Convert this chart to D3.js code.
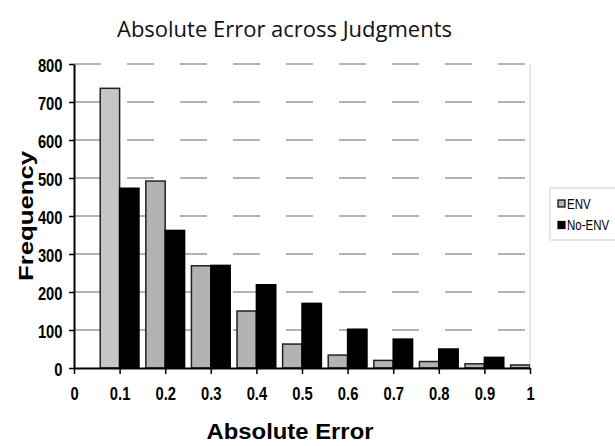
<!DOCTYPE html>
<html>
<head>
<meta charset="utf-8">
<script src="https://cdn.jsdelivr.net/npm/d3@7"></script>
<style>
  html, body { margin: 0; padding: 0; background: #fff; }
  svg { display: block; }
</style>
</head>
<body>
<svg id="chart" width="615" height="446"></svg>
<script>
// Bin centres (absolute error) and frequencies for each condition
const bins = [0.1, 0.2, 0.3, 0.4, 0.5, 0.6, 0.7, 0.8, 0.9, 1.0];
const envCounts = [736, 492, 269, 150, 63, 34, 20, 17, 11, 8];
const noEnvCounts = [473, 362, 270, 219, 170, 102, 76, 50, 28, null];
const seriesNames = ["ENV", "No-ENV"];
const xTicks = [0, 0.1, 0.2, 0.3, 0.4, 0.5, 0.6, 0.7, 0.8, 0.9, 1];
const yTicks = [0, 100, 200, 300, 400, 500, 600, 700, 800];

const svg = d3.select("#chart");
const plot = { left: 74, right: 530, top: 64, bottom: 368 };

const x = d3.scaleLinear().domain([0, 1]).range([plot.left, plot.right]);
const y = d3.scaleLinear().domain([0, 800]).range([plot.bottom, plot.top]);
const barW = 0.0425; // width of one bar, in axis units

svg.append("defs").append("clipPath").attr("id", "plotClip")
  .append("rect")
  .attr("x", plot.left).attr("y", plot.top - 2)
  .attr("width", plot.right - plot.left).attr("height", plot.bottom - plot.top + 4);

// Dashed horizontal gridlines
svg.append("g").selectAll("line")
  .data(yTicks.filter(d => d > 0))
  .join("line")
  .attr("x1", plot.left).attr("x2", plot.right)
  .attr("y1", d => y(d)).attr("y2", d => y(d))
  .attr("stroke", "#9a9a9a").attr("stroke-width", 1.5)
  .attr("stroke-dasharray", "27,26");

// Right edge of the plot area
svg.append("line")
  .attr("x1", plot.right).attr("x2", plot.right)
  .attr("y1", plot.top).attr("y2", plot.bottom)
  .attr("stroke", "#cfcfcf").attr("stroke-width", 1);

const bars = svg.append("g").attr("clip-path", "url(#plotClip)");

const envData = bins.map((b, i) => ({ b, v: envCounts[i], i })).filter(d => d.v != null);
const noEnvData = bins.map((b, i) => ({ b, v: noEnvCounts[i], i })).filter(d => d.v != null);

bars.selectAll("rect.env")
  .data(envData)
  .join("rect")
  .attr("class", "env")
  .attr("x", d => x(d.b - barW))
  .attr("width", d => x(d.b) - x(d.b - barW))
  .attr("y", d => y(d.v))
  .attr("height", d => y(0) - y(d.v))
  .attr("fill", d => d.i === 0 ? "#c6c6c6" : "#b3b3b3")
  .attr("stroke", "#222").attr("stroke-width", 1.5);

bars.selectAll("rect.noenv")
  .data(noEnvData)
  .join("rect")
  .attr("class", "noenv")
  .attr("x", d => x(d.b))
  .attr("width", d => x(d.b + barW) - x(d.b))
  .attr("y", d => y(d.v))
  .attr("height", d => y(0) - y(d.v))
  .attr("fill", "#000")
  .attr("stroke", "#000").attr("stroke-width", 1.5);

const tickFont = "'Liberation Sans', Arial, sans-serif";

// Y axis
const yAxis = svg.append("g")
  .attr("transform", `translate(${plot.left},0)`)
  .call(d3.axisLeft(y).tickValues(yTicks).tickSize(5).tickPadding(9).tickSizeOuter(0));
yAxis.select(".domain").attr("stroke", "#000").attr("stroke-width", 2);
yAxis.selectAll(".tick line").attr("stroke", "#000").attr("stroke-width", 1.5);
yAxis.selectAll(".tick text")
  .attr("font-family", tickFont).attr("font-weight", "bold").attr("font-size", 18)
  .attr("fill", "#000").attr("dy", "0.42em")
  .attr("transform", "scale(0.82,1)");

// X axis
const xAxis = svg.append("g")
  .attr("transform", `translate(0,${plot.bottom})`)
  .call(d3.axisBottom(x).tickValues(xTicks).tickFormat(d3.format("")).tickSize(6).tickPadding(13).tickSizeOuter(0));
xAxis.select(".domain").attr("stroke", "#000").attr("stroke-width", 2);
xAxis.selectAll(".tick line").attr("stroke", "#000").attr("stroke-width", 1.5);
xAxis.selectAll(".tick text")
  .attr("font-family", tickFont).attr("font-weight", "bold").attr("font-size", 18)
  .attr("fill", "#000")
  .attr("transform", "scale(0.82,1)");

// Title
svg.append("text")
  .attr("x", 117).attr("y", 37)
  .attr("font-family", "'Open Sans', 'Noto Sans', sans-serif")
  .attr("font-size", 21)
  .attr("textLength", 335).attr("lengthAdjust", "spacingAndGlyphs")
  .attr("fill", "#111")
  .text("Absolute Error across Judgments");

// Axis titles
svg.append("text")
  .attr("transform", "translate(33,216) rotate(-90)")
  .attr("text-anchor", "middle")
  .attr("font-family", tickFont).attr("font-weight", "bold").attr("font-size", 21)
  .attr("textLength", 130).attr("lengthAdjust", "spacingAndGlyphs")
  .attr("fill", "#000")
  .text("Frequency");

svg.append("text")
  .attr("x", 290).attr("y", 439)
  .attr("text-anchor", "middle")
  .attr("font-family", tickFont).attr("font-weight", "bold").attr("font-size", 22)
  .attr("textLength", 167).attr("lengthAdjust", "spacingAndGlyphs")
  .attr("fill", "#000")
  .text("Absolute Error");

// Legend
const legend = svg.append("g");
legend.append("rect")
  .attr("x", 550).attr("y", 188).attr("width", 70).attr("height", 52)
  .attr("fill", "#fff").attr("stroke", "#cfcfcf").attr("stroke-width", 1);
const legendFills = ["#b3b3b3", "#000"];
seriesNames.forEach((name, i) => {
  const ly = 200 + i * 21.5;
  legend.append("rect")
    .attr("x", 558).attr("y", ly).attr("width", 7).attr("height", 7)
    .attr("fill", legendFills[i]).attr("stroke", "#000").attr("stroke-width", 1.2);
  legend.append("text")
    .attr("x", 567).attr("y", ly + 9)
    .attr("font-family", tickFont).attr("font-size", 14)
    .attr("transform", `translate(${567 * 0.18},0) scale(0.82,1)`)
    .attr("fill", "#000")
    .text(name);
});
</script>
</body>
</html>
